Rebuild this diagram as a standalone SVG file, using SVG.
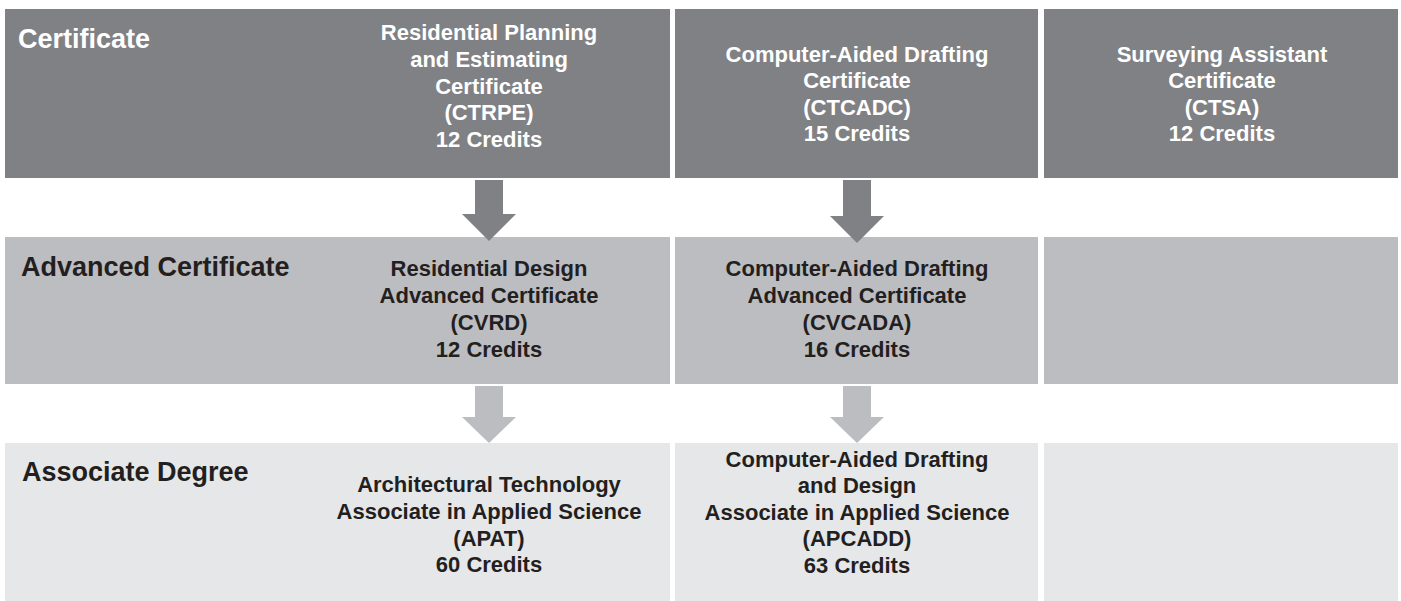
<svg xmlns="http://www.w3.org/2000/svg" width="1401" height="601" viewBox="0 0 1401 601">
<style>
  .r1 { fill: #808184; }
  .r2 { fill: #bcbdc0; }
  .r3 { fill: #e6e7e8; }
  text { font-family: "Liberation Sans", Arial, sans-serif; font-weight: bold; }
  .lbl { font-size: 27px; }
  .prg { font-size: 22px; text-anchor: middle; }
  .w { fill: #ffffff; }
  .k { fill: #231f20; }
</style>
<rect x="0" y="0" width="1401" height="601" fill="#ffffff"/>

<g id="row-certificate">
  <rect class="r1" x="5" y="9" width="665" height="169"/>
  <text class="lbl w" x="18" y="48">Certificate</text>
</g>
<g id="ctrpe">
  <text class="prg w" x="489" y="40">Residential Planning</text>
  <text class="prg w" x="489" y="67">and Estimating</text>
  <text class="prg w" x="489" y="94">Certificate</text>
  <text class="prg w" x="489" y="120">(CTRPE)</text>
  <text class="prg w" x="489" y="147">12 Credits</text>
</g>
<g id="ctcadc">
  <rect class="r1" x="675" y="9" width="363" height="169"/>
  <text class="prg w" x="857" y="62">Computer-Aided Drafting</text>
  <text class="prg w" x="857" y="88">Certificate</text>
  <text class="prg w" x="857" y="115">(CTCADC)</text>
  <text class="prg w" x="857" y="141">15 Credits</text>
</g>
<g id="ctsa">
  <rect class="r1" x="1044" y="9" width="354" height="169"/>
  <text class="prg w" x="1222" y="62">Surveying Assistant</text>
  <text class="prg w" x="1222" y="88">Certificate</text>
  <text class="prg w" x="1222" y="115">(CTSA)</text>
  <text class="prg w" x="1222" y="141">12 Credits</text>
</g>

<g id="row-advanced">
  <rect class="r2" x="5" y="237" width="665" height="147"/>
  <text class="lbl k" x="21" y="276">Advanced Certificate</text>
</g>
<g id="cvrd">
  <text class="prg k" x="489" y="276">Residential Design</text>
  <text class="prg k" x="489" y="303">Advanced Certificate</text>
  <text class="prg k" x="489" y="330">(CVRD)</text>
  <text class="prg k" x="489" y="357">12 Credits</text>
</g>
<g id="cvcada">
  <rect class="r2" x="675" y="237" width="363" height="147"/>
  <text class="prg k" x="857" y="276">Computer-Aided Drafting</text>
  <text class="prg k" x="857" y="303">Advanced Certificate</text>
  <text class="prg k" x="857" y="330">(CVCADA)</text>
  <text class="prg k" x="857" y="357">16 Credits</text>
</g>
<g id="advanced-empty">
  <rect class="r2" x="1044" y="237" width="354" height="147"/>
</g>

<g id="row-associate">
  <rect class="r3" x="5" y="443" width="665" height="158"/>
  <text class="lbl k" x="22" y="481">Associate Degree</text>
</g>
<g id="apat">
  <text class="prg k" x="489" y="492">Architectural Technology</text>
  <text class="prg k" x="489" y="519">Associate in Applied Science</text>
  <text class="prg k" x="489" y="546">(APAT)</text>
  <text class="prg k" x="489" y="572">60 Credits</text>
</g>
<g id="apcadd">
  <rect class="r3" x="675" y="443" width="363" height="158"/>
  <text class="prg k" x="857" y="467">Computer-Aided Drafting</text>
  <text class="prg k" x="857" y="493">and Design</text>
  <text class="prg k" x="857" y="520">Associate in Applied Science</text>
  <text class="prg k" x="857" y="546">(APCADD)</text>
  <text class="prg k" x="857" y="573">63 Credits</text>
</g>
<g id="associate-empty">
  <rect class="r3" x="1044" y="443" width="354" height="158"/>
</g>

<g id="connectors">
  <polygon class="r1" points="475,180 503,180 503,214 516,214 489,241 462,214 475,214"/>
  <polygon class="r1" points="843,180 871,180 871,216 884,216 857,243 830,216 843,216"/>
  <polygon class="r2" points="475,386 503,386 503,417 516,417 489,443 462,417 475,417"/>
  <polygon class="r2" points="843,386 871,386 871,417 884,417 857,443 830,417 843,417"/>
</g>
</svg>
